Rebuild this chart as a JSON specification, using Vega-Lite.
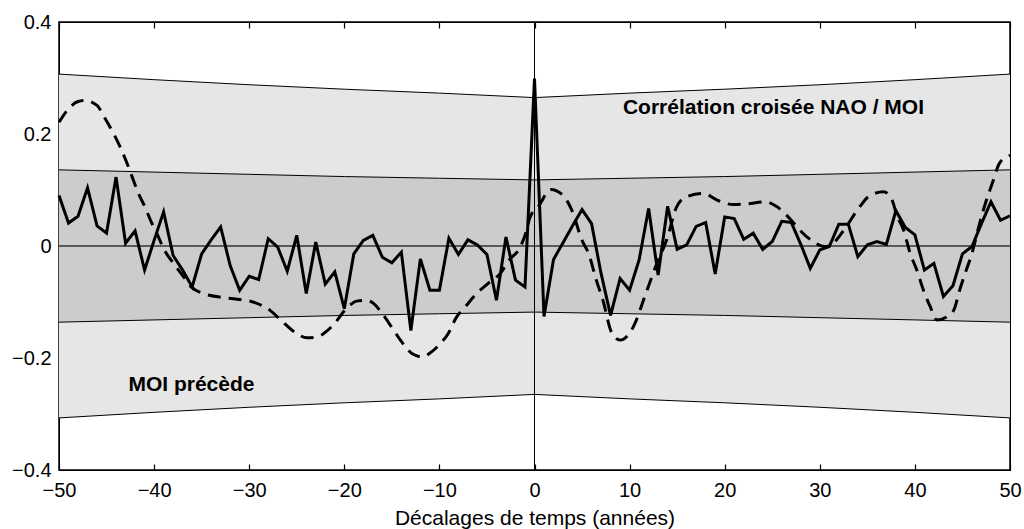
{
  "$schema": "https://vega.github.io/schema/vega-lite/v6.json",
  "width": 951,
  "height": 448,
  "autosize": {"type": "none"},
  "padding": {"left": 59, "top": 22, "right": 14, "bottom": 59},
  "background": "white",
  "config": {
    "view": {"stroke": "black", "strokeWidth": 1.5},
    "font": "Liberation Sans",
    "axis": {"grid": false, "domainColor": "black", "domainWidth": 1, "tickColor": "black", "tickWidth": 1.2, "labelColor": "black", "labelFont": "Liberation Sans", "titleFont": "Liberation Sans", "labelFontSize": 20, "titleFontSize": 21, "titleFontWeight": "normal", "titleColor": "black", "zindex": 1, "labelFlush": false, "labelOverlap": false}
  },
  "resolve": {"axis": {"x": "independent", "y": "independent"}},
  "datasets": {
    "band": [
      {"lag": -50, "o_lo": -0.307, "o_hi": 0.307, "i_lo": -0.136, "i_hi": 0.136},
      {"lag": -40, "o_lo": -0.297, "o_hi": 0.297, "i_lo": -0.132, "i_hi": 0.132},
      {"lag": -30, "o_lo": -0.288, "o_hi": 0.288, "i_lo": -0.128, "i_hi": 0.128},
      {"lag": -20, "o_lo": -0.280, "o_hi": 0.280, "i_lo": -0.124, "i_hi": 0.124},
      {"lag": -10, "o_lo": -0.273, "o_hi": 0.273, "i_lo": -0.121, "i_hi": 0.121},
      {"lag": 0, "o_lo": -0.265, "o_hi": 0.265, "i_lo": -0.118, "i_hi": 0.118},
      {"lag": 10, "o_lo": -0.273, "o_hi": 0.273, "i_lo": -0.121, "i_hi": 0.121},
      {"lag": 20, "o_lo": -0.280, "o_hi": 0.280, "i_lo": -0.124, "i_hi": 0.124},
      {"lag": 30, "o_lo": -0.288, "o_hi": 0.288, "i_lo": -0.128, "i_hi": 0.128},
      {"lag": 40, "o_lo": -0.297, "o_hi": 0.297, "i_lo": -0.132, "i_hi": 0.132},
      {"lag": 50, "o_lo": -0.307, "o_hi": 0.307, "i_lo": -0.136, "i_hi": 0.136}
    ],
    "zero": [{"lag": -50, "v": 0}, {"lag": 50, "v": 0}],
    "center": [{"lag": 0}],
    "solid": [
      {"lag": -50, "r": 0.090}, {"lag": -49, "r": 0.041}, {"lag": -48, "r": 0.053}, {"lag": -47, "r": 0.104}, {"lag": -46, "r": 0.036},
      {"lag": -45, "r": 0.023}, {"lag": -44, "r": 0.123}, {"lag": -43, "r": 0.005}, {"lag": -42, "r": 0.027}, {"lag": -41, "r": -0.043},
      {"lag": -40, "r": 0.010}, {"lag": -39, "r": 0.061}, {"lag": -38, "r": -0.017}, {"lag": -37, "r": -0.043}, {"lag": -36, "r": -0.073},
      {"lag": -35, "r": -0.014}, {"lag": -34, "r": 0.011}, {"lag": -33, "r": 0.034}, {"lag": -32, "r": -0.035}, {"lag": -31, "r": -0.079},
      {"lag": -30, "r": -0.054}, {"lag": -29, "r": -0.060}, {"lag": -28, "r": 0.013}, {"lag": -27, "r": -0.002}, {"lag": -26, "r": -0.045},
      {"lag": -25, "r": 0.019}, {"lag": -24, "r": -0.085}, {"lag": -23, "r": 0.007}, {"lag": -22, "r": -0.068}, {"lag": -21, "r": -0.046},
      {"lag": -20, "r": -0.112}, {"lag": -19, "r": -0.014}, {"lag": -18, "r": 0.010}, {"lag": -17, "r": 0.019}, {"lag": -16, "r": -0.020},
      {"lag": -15, "r": -0.030}, {"lag": -14, "r": -0.011}, {"lag": -13, "r": -0.151}, {"lag": -12, "r": -0.023}, {"lag": -11, "r": -0.079},
      {"lag": -10, "r": -0.079}, {"lag": -9, "r": 0.014}, {"lag": -8, "r": -0.015}, {"lag": -7, "r": 0.011}, {"lag": -6, "r": 0.002},
      {"lag": -5, "r": -0.015}, {"lag": -4, "r": -0.097}, {"lag": -3, "r": 0.016}, {"lag": -2, "r": -0.061}, {"lag": -1, "r": -0.073},
      {"lag": 0, "r": 0.299}, {"lag": 1, "r": -0.126}, {"lag": 2, "r": -0.024}, {"lag": 3, "r": 0.006}, {"lag": 4, "r": 0.036},
      {"lag": 5, "r": 0.065}, {"lag": 6, "r": 0.040}, {"lag": 7, "r": -0.049}, {"lag": 8, "r": -0.124}, {"lag": 9, "r": -0.058},
      {"lag": 10, "r": -0.079}, {"lag": 11, "r": -0.025}, {"lag": 12, "r": 0.067}, {"lag": 13, "r": -0.052}, {"lag": 14, "r": 0.071},
      {"lag": 15, "r": -0.006}, {"lag": 16, "r": 0.002}, {"lag": 17, "r": 0.035}, {"lag": 18, "r": 0.042}, {"lag": 19, "r": -0.050},
      {"lag": 20, "r": 0.052}, {"lag": 21, "r": 0.049}, {"lag": 22, "r": 0.012}, {"lag": 23, "r": 0.023}, {"lag": 24, "r": -0.006},
      {"lag": 25, "r": 0.008}, {"lag": 26, "r": 0.044}, {"lag": 27, "r": 0.042}, {"lag": 28, "r": 0.003}, {"lag": 29, "r": -0.040},
      {"lag": 30, "r": -0.007}, {"lag": 31, "r": -0.001}, {"lag": 32, "r": 0.039}, {"lag": 33, "r": 0.039}, {"lag": 34, "r": -0.019},
      {"lag": 35, "r": 0.002}, {"lag": 36, "r": 0.008}, {"lag": 37, "r": 0.003}, {"lag": 38, "r": 0.063}, {"lag": 39, "r": 0.033},
      {"lag": 40, "r": 0.020}, {"lag": 41, "r": -0.043}, {"lag": 42, "r": -0.031}, {"lag": 43, "r": -0.090}, {"lag": 44, "r": -0.071},
      {"lag": 45, "r": -0.014}, {"lag": 46, "r": -0.001}, {"lag": 47, "r": 0.040}, {"lag": 48, "r": 0.079}, {"lag": 49, "r": 0.046},
      {"lag": 50, "r": 0.054}
    ],
    "dashed": [
      {"lag": -50, "r": 0.221}, {"lag": -49, "r": 0.245}, {"lag": -48, "r": 0.258}, {"lag": -47.3, "r": 0.260}, {"lag": -46, "r": 0.251},
      {"lag": -45.2, "r": 0.229}, {"lag": -44.3, "r": 0.202}, {"lag": -43.6, "r": 0.178}, {"lag": -42.9, "r": 0.150}, {"lag": -42.3, "r": 0.123},
      {"lag": -41.7, "r": 0.096}, {"lag": -41, "r": 0.071}, {"lag": -40.3, "r": 0.043}, {"lag": -39.7, "r": 0.022}, {"lag": -38.9, "r": -0.008},
      {"lag": -38, "r": -0.030}, {"lag": -36.9, "r": -0.055}, {"lag": -36.1, "r": -0.073}, {"lag": -35, "r": -0.084}, {"lag": -34.2, "r": -0.088},
      {"lag": -32.7, "r": -0.092}, {"lag": -30.8, "r": -0.096}, {"lag": -29.4, "r": -0.101}, {"lag": -27.8, "r": -0.115}, {"lag": -26.7, "r": -0.132},
      {"lag": -25.2, "r": -0.154}, {"lag": -23.9, "r": -0.164}, {"lag": -22.8, "r": -0.162}, {"lag": -22, "r": -0.154}, {"lag": -21, "r": -0.138},
      {"lag": -19.8, "r": -0.112}, {"lag": -18.6, "r": -0.098}, {"lag": -17.7, "r": -0.097}, {"lag": -16.9, "r": -0.103}, {"lag": -16, "r": -0.121},
      {"lag": -14.9, "r": -0.148}, {"lag": -14.1, "r": -0.168}, {"lag": -12.8, "r": -0.193}, {"lag": -11.8, "r": -0.198}, {"lag": -10.9, "r": -0.190},
      {"lag": -10, "r": -0.176}, {"lag": -9.1, "r": -0.157}, {"lag": -8.2, "r": -0.127}, {"lag": -7.3, "r": -0.109}, {"lag": -6.1, "r": -0.085},
      {"lag": -4.9, "r": -0.067}, {"lag": -3.6, "r": -0.049}, {"lag": -2.6, "r": -0.024}, {"lag": -1.5, "r": -0.002}, {"lag": -0.8, "r": 0.030},
      {"lag": -0.5, "r": 0.050}, {"lag": 0.5, "r": 0.073}, {"lag": 1.7, "r": 0.101}, {"lag": 2.9, "r": 0.092}, {"lag": 3.9, "r": 0.065},
      {"lag": 5, "r": 0.010}, {"lag": 5.7, "r": -0.014}, {"lag": 6.5, "r": -0.061}, {"lag": 7.2, "r": -0.097}, {"lag": 8.1, "r": -0.154},
      {"lag": 9, "r": -0.168}, {"lag": 10.4, "r": -0.144}, {"lag": 11.6, "r": -0.090}, {"lag": 12.8, "r": -0.034}, {"lag": 13.9, "r": 0.011},
      {"lag": 14.95, "r": 0.070}, {"lag": 16, "r": 0.088}, {"lag": 17.75, "r": 0.094}, {"lag": 19.2, "r": 0.082}, {"lag": 20.9, "r": 0.074},
      {"lag": 22.3, "r": 0.075}, {"lag": 24.2, "r": 0.079}, {"lag": 25.5, "r": 0.070}, {"lag": 27, "r": 0.046}, {"lag": 27.7, "r": 0.032},
      {"lag": 29.3, "r": 0.008}, {"lag": 30.5, "r": -0.001}, {"lag": 31.2, "r": 0.002}, {"lag": 32.3, "r": 0.023}, {"lag": 34.2, "r": 0.070},
      {"lag": 35.1, "r": 0.088}, {"lag": 36.7, "r": 0.097}, {"lag": 37.6, "r": 0.082}, {"lag": 38.1, "r": 0.055}, {"lag": 38.8, "r": 0.029},
      {"lag": 39.5, "r": -0.013}, {"lag": 40.2, "r": -0.043}, {"lag": 40.9, "r": -0.079}, {"lag": 41.6, "r": -0.108}, {"lag": 42.3, "r": -0.132},
      {"lag": 43.4, "r": -0.126}, {"lag": 44.1, "r": -0.114}, {"lag": 44.7, "r": -0.079}, {"lag": 45.4, "r": -0.043}, {"lag": 45.9, "r": -0.019},
      {"lag": 46.8, "r": 0.040}, {"lag": 47.3, "r": 0.070}, {"lag": 48.2, "r": 0.115}, {"lag": 48.9, "r": 0.148}, {"lag": 50, "r": 0.162}
    ],
    "labels": [
      {"lag": 9.3, "r": 0.235, "txt": "Corrélation croisée NAO / MOI"},
      {"lag": -42.7, "r": -0.259, "txt": "MOI précède"}
    ]
  },
  "layer": [
    {
      "data": {"name": "band"},
      "mark": {"type": "area", "color": "#e6e6e6", "opacity": 1},
      "encoding": {
        "x": {"field": "lag", "type": "quantitative", "scale": {"domain": [-50, 50], "nice": false, "zero": false},
          "axis": {"orient": "bottom", "values": [-50, -40, -30, -20, -10, 0, 10, 20, 30, 40, 50], "tickSize": -6, "labelPadding": 16, "title": "Décalages de temps (années)", "titlePadding": 7}},
        "y": {"field": "o_lo", "type": "quantitative", "scale": {"domain": [-0.4, 0.4], "nice": false, "zero": false},
          "axis": {"orient": "left", "values": [-0.4, -0.2, 0, 0.2, 0.4], "ticks": false, "labelPadding": 8, "title": null, "labelExpr": "datum.value == 0 ? '0' : replace(format(datum.value, '.1f'), '-', '−')"}},
        "y2": {"field": "o_hi"}
      }
    },
    {
      "data": {"name": "band"},
      "mark": {"type": "area", "color": "#cccccc", "opacity": 1},
      "encoding": {
        "x": {"field": "lag", "type": "quantitative", "axis": null},
        "y": {"field": "i_lo", "type": "quantitative", "axis": null},
        "y2": {"field": "i_hi"}
      }
    },
    {
      "data": {"name": "band"},
      "transform": [{"fold": ["o_lo", "o_hi", "i_lo", "i_hi"], "as": ["k", "v"]}],
      "mark": {"type": "line", "color": "black", "strokeWidth": 1},
      "encoding": {
        "x": {"field": "lag", "type": "quantitative", "axis": null},
        "y": {"field": "v", "type": "quantitative", "axis": null},
        "detail": {"field": "k", "type": "nominal"}
      }
    },
    {
      "data": {"name": "zero"},
      "mark": {"type": "line", "color": "#333333", "strokeWidth": 1.3},
      "encoding": {
        "x": {"field": "lag", "type": "quantitative", "axis": null},
        "y": {"field": "v", "type": "quantitative", "axis": {"orient": "right", "title": null, "labels": false, "ticks": false}}
      }
    },
    {
      "data": {"name": "center"},
      "mark": {"type": "rule", "color": "black", "strokeWidth": 1},
      "encoding": {
        "x": {"field": "lag", "type": "quantitative", "axis": {"orient": "top", "title": null, "labels": false, "tickSize": -6, "values": [-50, -40, -30, -20, -10, 0, 10, 20, 30, 40, 50]}}
      }
    },
    {
      "data": {"name": "dashed"},
      "mark": {"type": "line", "color": "black", "strokeWidth": 3, "strokeDash": [13, 8], "interpolate": "monotone"},
      "encoding": {
        "x": {"field": "lag", "type": "quantitative", "axis": null},
        "y": {"field": "r", "type": "quantitative", "axis": null}
      }
    },
    {
      "data": {"name": "solid"},
      "mark": {"type": "line", "color": "black", "strokeWidth": 3, "strokeJoin": "miter"},
      "encoding": {
        "x": {"field": "lag", "type": "quantitative", "axis": null},
        "y": {"field": "r", "type": "quantitative", "axis": null}
      }
    },
    {
      "data": {"name": "labels"},
      "mark": {"type": "text", "font": "Liberation Sans", "fontWeight": "bold", "fontSize": 21, "align": "left", "baseline": "alphabetic", "color": "black"},
      "encoding": {
        "x": {"field": "lag", "type": "quantitative", "axis": null},
        "y": {"field": "r", "type": "quantitative", "axis": null},
        "text": {"field": "txt"}
      }
    }
  ]
}
